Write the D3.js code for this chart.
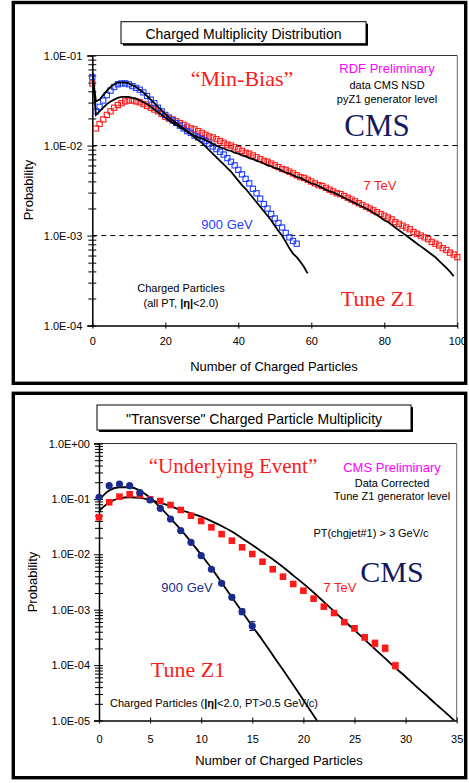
<!DOCTYPE html>
<html><head><meta charset="utf-8">
<script src="https://cdn.jsdelivr.net/npm/d3@7"></script>
<style>
body{margin:0;background:#fff}
svg{display:block}
</style></head>
<body>
<svg id="c" width="469" height="783"></svg>
<script>
// ---------------- DATA ----------------
// Top panel: Charged multiplicity (Min-Bias); index = number of charged particles
const topXTicks = [0, 20, 40, 60, 80, 100];
const topYTicks = [1e-4, 1e-3, 1e-2, 1e-1];
const topYTickLabels = ["1.0E-04", "1.0E-03", "1.0E-02", "1.0E-01"];
// log10(probability)
const topData900Log10 = [-1.24,-1.62,-1.57,-1.50,-1.44,-1.39,-1.35,-1.32,-1.31,-1.31,-1.32,-1.34,-1.36,-1.38,-1.41,-1.45,-1.49,-1.53,-1.58,-1.62,-1.66,-1.69,-1.72,-1.75,-1.78,-1.81,-1.84,-1.86,-1.89,-1.91,-1.93,-1.95,-1.98,-2.01,-2.04,-2.07,-2.10,-2.14,-2.18,-2.22,-2.27,-2.32,-2.37,-2.42,-2.48,-2.53,-2.59,-2.65,-2.70,-2.76,-2.81,-2.86,-2.91,-2.97,-3.02,-3.06,-3.09];
const topData7TeVLog10 = [-1.31,-1.81,-1.76,-1.71,-1.66,-1.62,-1.58,-1.55,-1.53,-1.51,-1.50,-1.50,-1.51,-1.52,-1.54,-1.56,-1.58,-1.60,-1.62,-1.65,-1.68,-1.70,-1.71,-1.73,-1.75,-1.77,-1.79,-1.81,-1.82,-1.84,-1.86,-1.88,-1.90,-1.91,-1.93,-1.95,-1.97,-1.99,-2.00,-2.02,-2.04,-2.06,-2.08,-2.09,-2.11,-2.13,-2.15,-2.17,-2.18,-2.20,-2.22,-2.24,-2.26,-2.27,-2.29,-2.31,-2.33,-2.35,-2.36,-2.38,-2.40,-2.42,-2.44,-2.45,-2.47,-2.49,-2.51,-2.53,-2.54,-2.56,-2.58,-2.60,-2.62,-2.64,-2.66,-2.68,-2.70,-2.72,-2.74,-2.76,-2.78,-2.80,-2.82,-2.85,-2.87,-2.89,-2.91,-2.93,-2.96,-2.98,-3.00,-3.02,-3.04,-3.07,-3.09,-3.11,-3.14,-3.16,-3.19,-3.21,-3.24];
const topZ1900Log10 = [-1.19,-1.51,-1.49,-1.44,-1.39,-1.35,-1.32,-1.30,-1.30,-1.30,-1.31,-1.33,-1.35,-1.38,-1.41,-1.45,-1.49,-1.53,-1.57,-1.61,-1.65,-1.69,-1.72,-1.75,-1.78,-1.81,-1.84,-1.87,-1.91,-1.94,-1.97,-2.01,-2.05,-2.09,-2.13,-2.17,-2.21,-2.25,-2.29,-2.34,-2.39,-2.44,-2.48,-2.53,-2.58,-2.63,-2.68,-2.73,-2.78,-2.83,-2.89,-2.95,-3.00,-3.07,-3.14,-3.20,-3.24,-3.29,-3.35,-3.42];
const topZ17TeVLog10 = [-1.19,-1.66,-1.62,-1.58,-1.54,-1.51,-1.49,-1.47,-1.46,-1.46,-1.46,-1.47,-1.48,-1.50,-1.52,-1.54,-1.57,-1.60,-1.63,-1.66,-1.69,-1.72,-1.75,-1.77,-1.80,-1.82,-1.85,-1.87,-1.89,-1.91,-1.92,-1.94,-1.96,-1.98,-2.00,-2.02,-2.03,-2.05,-2.06,-2.08,-2.09,-2.11,-2.12,-2.14,-2.15,-2.17,-2.18,-2.20,-2.22,-2.23,-2.25,-2.26,-2.28,-2.30,-2.31,-2.33,-2.35,-2.36,-2.38,-2.40,-2.42,-2.43,-2.45,-2.47,-2.49,-2.51,-2.52,-2.54,-2.56,-2.58,-2.60,-2.62,-2.64,-2.66,-2.68,-2.70,-2.72,-2.75,-2.77,-2.80,-2.83,-2.85,-2.88,-2.91,-2.94,-2.97,-3.00,-3.03,-3.06,-3.09,-3.12,-3.15,-3.18,-3.21,-3.24,-3.28,-3.32,-3.36,-3.40,-3.45];

// Bottom panel: "Transverse" charged particle multiplicity (Underlying Event)
const botXTicks = [0, 5, 10, 15, 20, 25, 30, 35];
const botYTicks = [1e-5, 1e-4, 1e-3, 1e-2, 1e-1, 1];
const botYTickLabels = ["1.0E-05", "1.0E-04", "1.0E-03", "1.0E-02", "1.0E-01", "1.0E+00"];
const botData900Log10 = [-0.971,-0.762,-0.731,-0.762,-0.888,-1.02,-1.17,-1.363,-1.574,-1.784,-2.025,-2.27,-2.524,-2.776,-3.036,-3.294];
const botErr900Log10  = [0,0,0,0,0,0,0,0,0,0,0,0.02,0.03,0.04,0.05,0.08];
const botData7TeVLog10 = [-1.332,-1.061,-0.96,-0.917,-0.93,-1.007,-1.038,-1.11,-1.2,-1.303,-1.399,-1.513,-1.636,-1.754,-1.874,-1.995,-2.134,-2.27,-2.404,-2.536,-2.657,-2.80,-2.945,-3.06,-3.225,-3.336,-3.498,-3.607,-3.697,-4.01];
const botErr7TeVLog10  = [0,0,0,0,0,0,0,0,0,0,0,0,0,0,0,0,0,0,0,0,0.02,0.02,0.03,0.03,0.04,0.05,0.05,0.06,0.06,0.06];
const botZ1900Log10 = [-1.02,-0.85,-0.79,-0.79,-0.85,-0.98,-1.155,-1.35,-1.555,-1.775,-2.01,-2.25,-2.51,-2.775,-3.035,-3.30,-3.55,-3.82,-4.085,-4.355,-4.63,-4.91,-5.19];
const botZ17TeVLog10 = [-1.22,-1.06,-0.99,-0.97,-0.98,-1.02,-1.07,-1.13,-1.20,-1.26,-1.32,-1.40,-1.49,-1.59,-1.71,-1.83,-1.96,-2.09,-2.23,-2.38,-2.53,-2.69,-2.86,-3.03,-3.20,-3.37,-3.54,-3.71,-3.88,-4.05,-4.21,-4.38,-4.54,-4.71,-4.87,-5.04];

// ---------------- DRAWING ----------------
const SANS = '"Liberation Sans", Arial, Helvetica, sans-serif';
const SERIF = '"Liberation Serif", "Times New Roman", Times, serif';
const RED = "#ff1a1a", BLUE = "#1f3cff", NAVY = "#1c2a8c", MAG = "#ff00ff", CMSNAVY = "#14185e";
const svg = d3.select("#c");
svg.append("rect").attr("width",469).attr("height",783).attr("fill","#fff");

const toPts = arr => arr.map((v,i)=>({n:i, p:Math.pow(10,v)}));

// panel frames
[[2.5,383.3],[393.3,777.7]].forEach(([a,b])=>{
  svg.append("rect").attr("x",13.3).attr("y",a).attr("width",452.4).attr("height",b-a)
    .attr("fill","none").attr("stroke","#000").attr("stroke-width",3.4);
});

function titleBox(x,y,w,h,text,baseline){
  svg.append("rect").attr("x",x+2).attr("y",y+2).attr("width",w).attr("height",h).attr("fill","#000");
  svg.append("rect").attr("x",x).attr("y",y).attr("width",w).attr("height",h).attr("fill","#fff").attr("stroke","#000").attr("stroke-width",1);
  svg.append("text").attr("x",x+w/2).attr("y",baseline).attr("text-anchor","middle")
    .style("font-family",SANS).style("font-size","14px").text(text);
}
function txt(x,y,s,size,color,family,anchor){
  return svg.append("text").attr("x",x).attr("y",y).attr("text-anchor",anchor||"middle")
    .style("font-family",family||SANS).style("font-size",size+"px").attr("fill",color||"#000").text(s);
}

function chart(cfg){
  const x = d3.scaleLinear().domain(cfg.xDomain).range(cfg.xRange);
  const y = d3.scaleLog().domain(cfg.yDomain).range(cfg.yRange);
  const [x0,x1] = cfg.xRange, [yb,yt] = cfg.yRange;
  const g = svg.append("g");
  const id = "clip"+cfg.id;
  svg.append("clipPath").attr("id",id).append("rect").attr("x",x0).attr("y",yt).attr("width",x1-x0).attr("height",yb-yt);

  // top/right frame
  g.append("line").attr("x1",x0).attr("x2",x1).attr("y1",yt).attr("y2",yt).attr("stroke","#333").attr("stroke-width",1);
  g.append("line").attr("x1",x1).attr("x2",x1).attr("y1",yt).attr("y2",yb).attr("stroke","#666").attr("stroke-width",1);
  // dashed grid
  (cfg.grid||[]).forEach(v=>g.append("line").attr("x1",x0).attr("x2",x1).attr("y1",y(v)).attr("y2",y(v))
    .attr("stroke","#000").attr("stroke-width",1).attr("stroke-dasharray","5,4"));

  // minor ticks (log)
  const minor = [];
  cfg.yTicks.slice(0,-1).forEach(d=>{ for(let k=2;k<=9;k++) minor.push(k*d); });
  [4,-4].forEach(s=>{
    g.append("g").attr("transform",`translate(${x0},0)`).call(d3.axisLeft(y).tickValues(minor).tickSize(s).tickFormat(""))
      .call(a=>a.select(".domain").remove());
  });
  // major y ticks
  g.append("g").attr("transform",`translate(${x0},0)`).call(d3.axisLeft(y).tickValues(cfg.yTicks).tickSize(-4).tickFormat(""))
    .call(a=>a.select(".domain").remove());
  const ya = g.append("g").attr("transform",`translate(${x0},0)`)
    .call(d3.axisLeft(y).tickValues(cfg.yTicks).tickSize(5).tickPadding(cfg.yPad).tickFormat((d,i)=>cfg.yLabels[i]));
  ya.selectAll("text").style("font-family",SANS).style("font-size","11px").attr("fill","#000");
  ya.select(".domain").attr("stroke-width",1.5);

  // x axis
  [3,-3].forEach(s=>{
    g.append("g").attr("transform",`translate(0,${yb})`).call(d3.axisBottom(x).tickValues(cfg.xTicks).tickSize(s).tickFormat(""))
      .call(a=>a.select(".domain").remove());
  });
  const xa = g.append("g").attr("transform",`translate(0,${yb})`)
    .call(d3.axisBottom(x).tickValues(cfg.xTicks).tickSize(0).tickPadding(cfg.xPad));
  xa.selectAll("text").style("font-family",SANS).style("font-size","11px").attr("fill","#000");
  xa.select(".domain").attr("stroke-width",1.5);
  g.selectAll(".tick line").attr("stroke","#000").attr("stroke-width",1);

  cfg.draw(g, x, y, id);
}

// ---------- top chart ----------
titleBox(121,21.7,245,22,"Charged Multiplicity Distribution",38.5);
chart({
  id:"T", xDomain:[0,100], xRange:[92.3,457.3], yDomain:[1e-4,1e-1], yRange:[325.6,55.5],
  xTicks:topXTicks, yTicks:topYTicks, yLabels:topYTickLabels, yPad:5, xPad:11.5,
  grid:[1e-2,1e-3],
  draw:(g,x,y,id)=>{
    const sq = (data,color)=>g.append("g").selectAll("rect").data(toPts(data)).join("rect")
      .attr("x",d=>x(d.n)-2.6).attr("y",d=>y(d.p)-2.6).attr("width",5.2).attr("height",5.2)
      .attr("fill","none").attr("stroke",color).attr("stroke-width",1.1);
    sq(topData7TeVLog10, RED);
    sq(topData900Log10, BLUE);
    const line = d3.line().x(d=>x(d.n)).y(d=>y(d.p));
    [topZ17TeVLog10, topZ1900Log10].forEach(arr=>{
      g.append("path").datum(toPts(arr)).attr("d",line).attr("fill","none").attr("stroke","#000")
        .attr("stroke-width",1.8).attr("clip-path",`url(#${id})`);
    });
  }
});
txt(28,190,"Probability",13).attr("transform","rotate(-90,28,190)").attr("dy","0.35em");
txt(274,370.5,"Number of Charged Particles",13);
txt(242,86,"\u201CMin-Bias\u201D",22,RED,SERIF);
txt(387,72.5,"RDF Preliminary",13,MAG);
txt(387,89,"data CMS NSD",11);
txt(387,103,"pyZ1 generator level",11);
txt(377,136,"CMS",31,CMSNAVY,SERIF);
txt(380,189.5,"7 TeV",13,RED);
txt(227,228.5,"900 GeV",13,BLUE);
txt(181,292,"Charged Particles",11);
{
  const t = txt(181,307,"",11);
  t.append("tspan").text("(all PT, ");
  t.append("tspan").style("font-weight","bold").text("|\u03B7|");
  t.append("tspan").text("<2.0)");
}
txt(378,306,"Tune Z1",22,RED,SERIF);

// ---------- bottom chart ----------
titleBox(97,405,314,25,"\"Transverse\" Charged Particle Multiplicity",423.5);
chart({
  id:"B", xDomain:[0,35], xRange:[99,456.7], yDomain:[1e-5,1], yRange:[720.5,443.5],
  xTicks:botXTicks, yTicks:botYTicks, yLabels:botYTickLabels, yPad:4, xPad:15,
  grid:[],
  draw:(g,x,y,id)=>{
    const line = d3.line().x(d=>x(d.n)).y(d=>y(d.p)).curve(d3.curveMonotoneX);
    [botZ17TeVLog10, botZ1900Log10].forEach(arr=>{
      g.append("path").datum(toPts(arr)).attr("d",line).attr("fill","none").attr("stroke","#000")
        .attr("stroke-width",1.8).attr("clip-path",`url(#${id})`);
    });
    const errs = (data,err,color)=>{
      const pts = data.map((v,i)=>({n:i, lo:Math.pow(10,v-err[i]), hi:Math.pow(10,v+err[i]), e:err[i]})).filter(d=>d.e>0);
      const eg = g.append("g").attr("stroke",color).attr("stroke-width",1.2);
      eg.selectAll("line.v").data(pts).join("line").attr("x1",d=>x(d.n)).attr("x2",d=>x(d.n)).attr("y1",d=>y(d.lo)).attr("y2",d=>y(d.hi));
      eg.selectAll("line.a").data(pts).join("line").attr("x1",d=>x(d.n)-3).attr("x2",d=>x(d.n)+3).attr("y1",d=>y(d.lo)).attr("y2",d=>y(d.lo));
      eg.selectAll("line.b").data(pts).join("line").attr("x1",d=>x(d.n)-3).attr("x2",d=>x(d.n)+3).attr("y1",d=>y(d.hi)).attr("y2",d=>y(d.hi));
    };
    errs(botData7TeVLog10, botErr7TeVLog10, "#ff6060");
    errs(botData900Log10, botErr900Log10, NAVY);
    g.append("g").selectAll("rect").data(toPts(botData7TeVLog10)).join("rect")
      .attr("x",d=>x(d.n)-3.3).attr("y",d=>y(d.p)-3.3).attr("width",6.6).attr("height",6.6).attr("fill",RED);
    g.append("g").selectAll("circle").data(toPts(botData900Log10)).join("circle")
      .attr("cx",d=>x(d.n)).attr("cy",d=>y(d.p)).attr("r",3.6).attr("fill",NAVY);
  }
});
txt(32,582,"Probability",13).attr("transform","rotate(-90,32,582)").attr("dy","0.35em");
txt(279,764.5,"Number of Charged Particles",13);
txt(233,473,"\u201CUnderlying Event\u201D",21,RED,SERIF);
txt(392,471.5,"CMS Preliminary",13,MAG);
txt(392,487,"Data Corrected",11);
txt(392,500,"Tune Z1 generator level",11);
txt(371,537,"PT(chgjet#1) > 3 GeV/c",11);
txt(392,582,"CMS",30,CMSNAVY,SERIF);
txt(340,591.5,"7 TeV",13,RED);
txt(187,591.5,"900 GeV",13,NAVY);
txt(188,677,"Tune Z1",22,RED,SERIF);
{
  const t = txt(214,707,"",11);
  t.append("tspan").text("Charged Particles (");
  t.append("tspan").style("font-weight","bold").text("|\u03B7|");
  t.append("tspan").text("<2.0, PT>0.5 GeV/c)");
}
</script>
</body></html>
